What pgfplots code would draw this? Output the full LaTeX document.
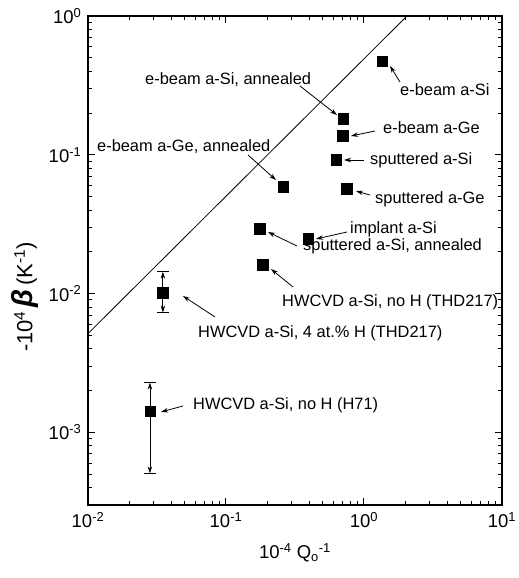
\documentclass[border=0pt]{standalone}
\usepackage{fontspec}
\setmainfont{Liberation Sans}
\usepackage{pgfplots}
\pgfplotsset{compat=1.18}
\usetikzlibrary{arrows.meta}
\begin{document}
\fontsize{16.4}{19}\selectfont
\begin{tikzpicture}
\begin{axis}[
  name=ax,
  width=414pt, height=489pt, scale only axis,
  xmode=log, ymode=log,
  xmin=1e-2, xmax=10, ymin=3e-4, ymax=1,
  clip=false,
  axis line style={line width=1.4pt},
  tick align=inside,
  major tick length=7pt, minor tick length=4pt,
  every tick/.style={black, line width=1pt},
  xtick={0.01,0.1,1,10},
  ytick={0.001,0.01,0.1,1},
  minor xtick={0.02,0.03,0.04,0.05,0.06,0.07,0.08,0.09,0.2,0.3,0.4,0.5,0.6,0.7,0.8,0.9,2,3,4,5,6,7,8,9},
  minor ytick={0.0004,0.0005,0.0006,0.0007,0.0008,0.0009,0.002,0.003,0.004,0.005,0.006,0.007,0.008,0.009,0.02,0.03,0.04,0.05,0.06,0.07,0.08,0.09,0.2,0.3,0.4,0.5,0.6,0.7,0.8,0.9},
  xticklabels={10\textsuperscript{-2},10\textsuperscript{-1},10\textsuperscript{0},10\textsuperscript{1}},
  yticklabels={10\textsuperscript{-3},10\textsuperscript{-2},10\textsuperscript{-1},10\textsuperscript{0}},
  tick label style={font=\fontsize{18.5}{21}\selectfont},
  xticklabel style={yshift=-2pt},
  yticklabel style={xshift=-1pt},
  xlabel={10\textsuperscript{-4} Q\textsubscript{o}\textsuperscript{-1}},
  xlabel style={font=\fontsize{18.5}{21}\selectfont, at={(rel axis cs:0.5,-0.098)}, anchor=center},
]
% theory line
\addplot[black, line width=0.8pt] coordinates {(0.01,0.00515) (2.05,1)};
% data points
\addplot[only marks, mark=square*, mark size=5.2pt, black] coordinates {
 (1.35,0.474)
 (0.705,0.1815)
 (0.70,0.137)
 (0.626,0.092)
 (0.75,0.0569)
 (0.259,0.0589)
 (0.393,0.0249)
 (0.176,0.0294)
 (0.185,0.0162)
};
% HWCVD with error bars
\addplot[only marks, mark=square*, mark size=5.2pt, black,
  error bars/.cd, y dir=both, y explicit,
  error bar style={line width=0.8pt,-{Stealth[length=7pt,width=4.5pt]}},
  error mark options={rotate=90,mark size=6pt,line width=0.8pt}]
  coordinates {
 (0.0349,0.01016) += (0,0.00423) -= (0,0.00286)
 (0.0281,0.001416) += (0,0.000874) -= (0,0.000909)
};
% annotations
\tikzset{ann/.style={-{Stealth[length=7pt,width=4.5pt]}, line width=0.8pt}}
\tikzset{lab/.style={anchor=west, inner sep=0pt, font=\fontsize{16.4}{19}\selectfont}}
\node[lab] at (rel axis cs:0.7536,0.8487) {e-beam a-Si};
\draw[ann] (rel axis cs:0.7536,0.8650) -- (rel axis cs:0.7295,0.8978);
\node[lab] at (rel axis cs:0.1377,0.8691) {e-beam a-Si, annealed};
\draw[ann] (rel axis cs:0.5121,0.8569) -- (rel axis cs:0.6014,0.7975);
\node[lab] at (rel axis cs:0.7126,0.7710) {e-beam a-Ge};
\draw[ann] (rel axis cs:0.6932,0.7648) -- (rel axis cs:0.6353,0.7546);
\node[lab] at (rel axis cs:0.6812,0.7055) {sputtered a-Si};
\draw[ann] (rel axis cs:0.6667,0.7055) -- (rel axis cs:0.6184,0.7055);
\node[lab] at (rel axis cs:0.0217,0.7321) {e-beam a-Ge, annealed};
\draw[ann] (rel axis cs:0.3865,0.7157) -- (rel axis cs:0.4541,0.6646);
\node[lab] at (rel axis cs:0.6932,0.6258) {sputtered a-Ge};
\draw[ann] (rel axis cs:0.6812,0.6339) -- (rel axis cs:0.6473,0.6421);
\node[lab] at (rel axis cs:0.6329,0.5644) {implant a-Si};
\draw[ann] (rel axis cs:0.6256,0.5583) -- (rel axis cs:0.5507,0.5440);
\node[lab] at (rel axis cs:0.5193,0.5297) {sputtered a-Si, annealed};
\draw[ann] (rel axis cs:0.5048,0.5297) -- (rel axis cs:0.4348,0.5583);
\node[lab] at (rel axis cs:0.4686,0.4151) {HWCVD a-Si, no H (THD217)};
\draw[ann] (rel axis cs:0.4952,0.4458) -- (rel axis cs:0.4420,0.4826);
\node[lab] at (rel axis cs:0.2657,0.3517) {HWCVD a-Si, 4 at.\% H (THD217)};
\draw[ann] (rel axis cs:0.3068,0.3845) -- (rel axis cs:0.2295,0.4274);
\node[lab] at (rel axis cs:0.2536,0.2045) {HWCVD a-Si, no H (H71)};
\draw[ann] (rel axis cs:0.2295,0.2025) -- (rel axis cs:0.1763,0.1902);
% y label
\node[rotate=90] at (rel axis cs:-0.1522,0.4254) {\fontsize{22}{25}\selectfont -10\textsuperscript{4}\,{\fontsize{29}{31}\selectfont\bfseries\itshape β}\,(K\textsuperscript{-1})};
\end{axis}
\pgfresetboundingbox
\path[use as bounding box] ([shift={(-88pt,-73pt)}]ax.south west) rectangle ([shift={(17pt,16pt)}]ax.north east);
\end{tikzpicture}
\end{document}
